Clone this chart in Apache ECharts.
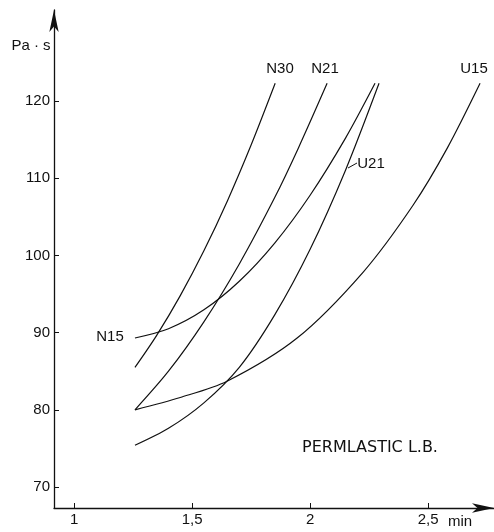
<!DOCTYPE html>
<html>
<head>
<meta charset="utf-8">
<script src="https://cdn.jsdelivr.net/npm/echarts@6/dist/echarts.min.js"></script>
<style>html,body{margin:0;padding:0;background:#fff}#c{width:494px;height:532px}</style>
</head>
<body>
<div id="c"></div>
<script>
// time (min) / viscosity (Pa·s)
const N30_x = [1.258, 1.35, 1.45, 1.55, 1.65, 1.75, 1.852];
const N30_y = [85.5, 89.65, 94.8, 100.6, 107.1, 114.3, 122.3];
const N21_x = [1.258, 1.4, 1.55, 1.7, 1.85, 1.95, 2.072];
const N21_y = [80.0, 85.0, 91.4, 98.9, 107.5, 113.9, 122.3];
const N15_x = [1.258, 1.4, 1.55, 1.7, 1.85, 2.0, 2.15, 2.275];
const N15_y = [89.3, 90.5, 92.95, 96.65, 101.6, 107.8, 115.2, 122.3];
const U21_x = [1.258, 1.4, 1.55, 1.7, 1.85, 2.0, 2.15, 2.292];
const U21_y = [75.4, 77.6, 80.9, 85.5, 92.3, 100.8, 111.05, 122.3];
const U15_x = [1.258, 1.45, 1.648, 1.945, 2.225, 2.436, 2.581, 2.72];
const U15_y = [80.0, 81.6, 83.7, 89.3, 97.85, 106.5, 113.9, 122.3];
const xTicks = [1, 1.5, 2, 2.5];
const xTickLabels = ['1', '1,5', '2', '2,5'];
const yTicks = [70, 80, 90, 100, 110, 120];

const zip = (a, b) => a.map((v, i) => [v, b[i]]);
const ink = '#111';
const font = 'Liberation Sans';

const mk = (name, xs, ys) => ({
  name, type: 'line', data: zip(xs, ys), smooth: 0.3, showSymbol: false,
  lineStyle: { color: ink, width: 1.2 }, silent: true, animation: false
});

const chart = echarts.init(document.getElementById('c'));
const txt = (x, y, t, size, fam) => ({
  type: 'text', x, y,
  style: { text: t, fill: ink, font: (size || 15) + 'px "' + (fam || font) + '"', align: 'center', verticalAlign: 'middle' }
});
chart.setOption({
  animation: false,
  backgroundColor: '#fff',
  grid: { left: 54, top: 10, width: 440, height: 498, containLabel: false },
  xAxis: {
    type: 'value', min: 0.915, max: 2.779,
    splitLine: { show: false },
    axisLine: { lineStyle: { color: ink, width: 1.3 }, symbol: ['none', 'arrow'], symbolSize: [7, 22] },
    axisTick: { show: true, inside: true, length: 5, customValues: xTicks, lineStyle: { color: ink } },
    axisLabel: {
      customValues: xTicks, margin: 4, color: ink, fontSize: 15, fontFamily: font,
      formatter: v => { const i = xTicks.findIndex(t => Math.abs(t - v) < 1e-6); return i >= 0 ? xTickLabels[i] : ''; }
    }
  },
  yAxis: {
    type: 'value', min: 67.28, max: 131.8,
    splitLine: { show: false },
    axisLine: { lineStyle: { color: ink, width: 1.3 }, symbol: ['none', 'arrow'], symbolSize: [7, 22] },
    axisTick: { show: true, inside: true, length: 5, customValues: yTicks, lineStyle: { color: ink } },
    axisLabel: { customValues: yTicks, margin: 4, color: ink, fontSize: 15, fontFamily: font }
  },
  series: [
    mk('N30', N30_x, N30_y),
    mk('N21', N21_x, N21_y),
    mk('N15', N15_x, N15_y),
    mk('U21', U21_x, U21_y),
    mk('U15', U15_x, U15_y)
  ],
  graphic: [
    txt(31, 46, 'Pa · s'),
    txt(280, 69, 'N30'),
    txt(325, 69, 'N21'),
    txt(474, 69, 'U15'),
    txt(371, 164, 'U21'),
    txt(110, 337, 'N15'),
    txt(370, 448, 'PERMLASTIC L.B.', 16, 'DejaVu Sans'),
    txt(460, 522, 'min'),
    { type: 'line', shape: { x1: 348, y1: 168, x2: 357, y2: 163 }, style: { stroke: ink, lineWidth: 1 } }
  ]
});
</script>
</body>
</html>
